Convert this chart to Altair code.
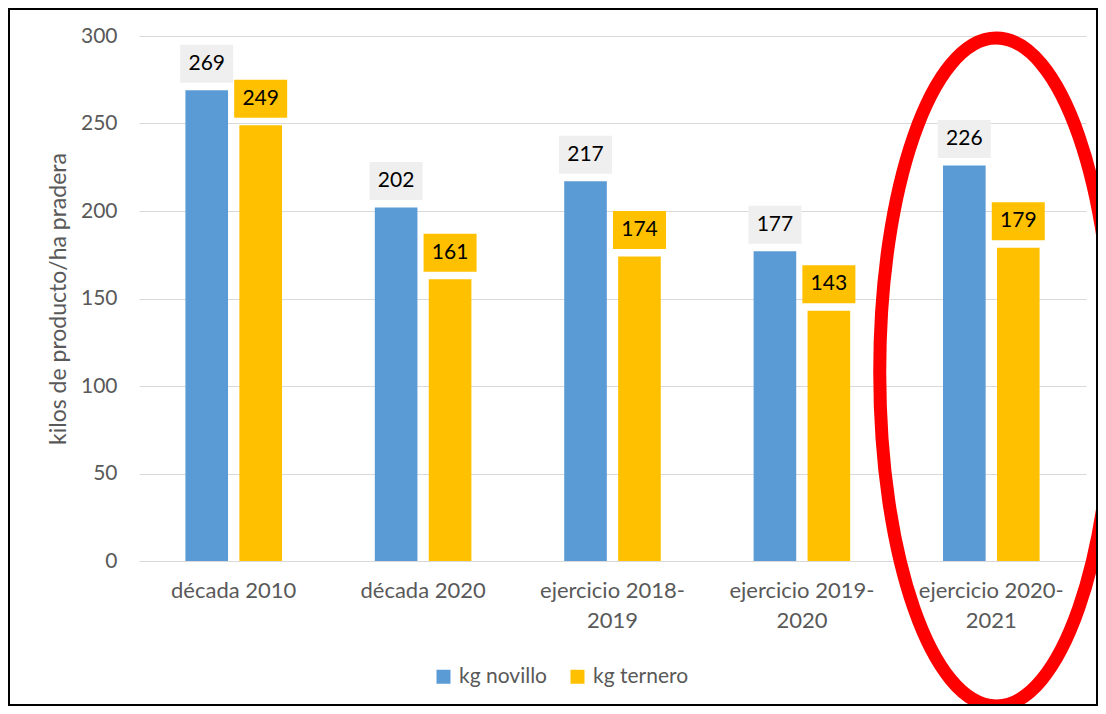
import altair as alt
import pandas as pd

categories = ["década 2010", "década 2020", "ejercicio 2018-2019",
              "ejercicio 2019-2020", "ejercicio 2020-2021"]
kg_novillo = [269, 202, 217, 177, 226]
kg_ternero = [249, 161, 174, 143, 179]
series = ["kg novillo", "kg ternero"]
colors = ["#5B9BD5", "#FFC000"]
label_box_colors = ["#EFEFEF", "#FFC000"]
y_ticks = [0, 50, 100, 150, 200, 250, 300]
highlight = [categories[-1]]

rows = []
for c, n, t in zip(categories, kg_novillo, kg_ternero):
    rows.append({"cat": c, "serie": series[0], "valor": n})
    rows.append({"cat": c, "serie": series[1], "valor": t})
df = pd.DataFrame(rows)

FONT = "Lato"
GRAY = "#595959"
W, H = 947, 525
TOTAL_W, TOTAL_H = 1090, 698
PAD_L, PAD_T = 131, 28

x_enc = alt.X(
    "cat:N", sort=categories, title=None,
    scale=alt.Scale(paddingInner=0.49, paddingOuter=0.245),
    axis=alt.Axis(
        labelAngle=0, labelFontSize=22, labelColor=GRAY, labelFont=FONT,
        labelPadding=19, labelLineHeight=30, ticks=False,
        domainColor="#D9D9D9", domainWidth=1, grid=False,
        labelExpr="indexof(datum.label,'ejercicio')==0 ? [slice(datum.label,0,15), slice(datum.label,15)] : datum.label",
    ),
)
xoff_enc = alt.XOffset("serie:N", sort=series,
                       scale=alt.Scale(paddingInner=0.21, paddingOuter=0))
y_enc = alt.Y(
    "valor:Q", title="kilos de producto/ha pradera",
    scale=alt.Scale(domain=[0, 300], nice=False),
    axis=alt.Axis(
        values=y_ticks, labelFontSize=21, labelColor=GRAY, labelFont=FONT,
        labelPadding=22, ticks=False, domain=False,
        gridColor="#D9D9D9", gridWidth=1,
        titleFontSize=23, titleColor=GRAY, titleFont=FONT,
        titleFontWeight="normal", titlePadding=10,
    ),
)

base = alt.Chart(df)

bars = base.mark_bar().encode(
    x=x_enc, xOffset=xoff_enc, y=y_enc,
    color=alt.Color(
        "serie:N", sort=series,
        scale=alt.Scale(domain=series, range=colors),
        legend=alt.Legend(
            title=None, orient="none", direction="horizontal",
            legendX=294, legendY=630, padding=0,
            symbolType="square", symbolSize=196, symbolStrokeWidth=0,
            labelFontSize=21, labelColor=GRAY, labelFont=FONT,
            labelOffset=5, columnPadding=20,
        ),
    ),
)

box_path = "M-1,-0.717L1,-0.717L1,0.717L-1,0.717Z"
boxes = base.mark_point(
    shape=box_path, size=53 * 53, filled=True, opacity=1, yOffset=-26.5,
).encode(
    x=alt.X("cat:N", sort=categories),
    xOffset=alt.XOffset("serie:N", sort=series),
    y="valor:Q",
    fill=alt.Fill("serie:N", scale=alt.Scale(domain=series, range=label_box_colors), legend=None),
)

texts = base.mark_text(
    yOffset=-26.5, fontSize=21, font=FONT, color="black", baseline="middle",
).encode(
    x=alt.X("cat:N", sort=categories),
    xOffset=alt.XOffset("serie:N", sort=series),
    y="valor:Q",
    text="valor:Q",
)

ell_path = "M-0.349,0A0.349,1 0 1,0 0.349,0A0.349,1 0 1,0 -0.349,0Z"
ellipse = alt.Chart(pd.DataFrame({"cat": highlight})).mark_point(
    shape=ell_path, size=668 * 668, filled=False, stroke="#FF0000",
    strokeWidth=13, opacity=1, xOffset=5,
).encode(
    x=alt.X("cat:N", sort=categories),
    y=alt.value(336),
)

border = alt.Chart(pd.DataFrame({"cat": highlight})).mark_rect(
    fill=None, stroke="black", strokeWidth=2,
).encode(
    x=alt.value(1 - PAD_L), x2=alt.value(TOTAL_W - 1 - PAD_L),
    y=alt.value(1 - PAD_T), y2=alt.value(TOTAL_H - 1 - PAD_T),
)

chart = alt.layer(bars, boxes, texts, ellipse, border).properties(
    width=W, height=H,
    autosize=alt.AutoSizeParams(type="none"),
    padding={"left": PAD_L, "top": PAD_T,
             "right": TOTAL_W - PAD_L - W, "bottom": TOTAL_H - PAD_T - H},
    background="white",
).configure_view(stroke=None)

chart.save("out.html", embed_options={"renderer": "svg", "actions": False})
